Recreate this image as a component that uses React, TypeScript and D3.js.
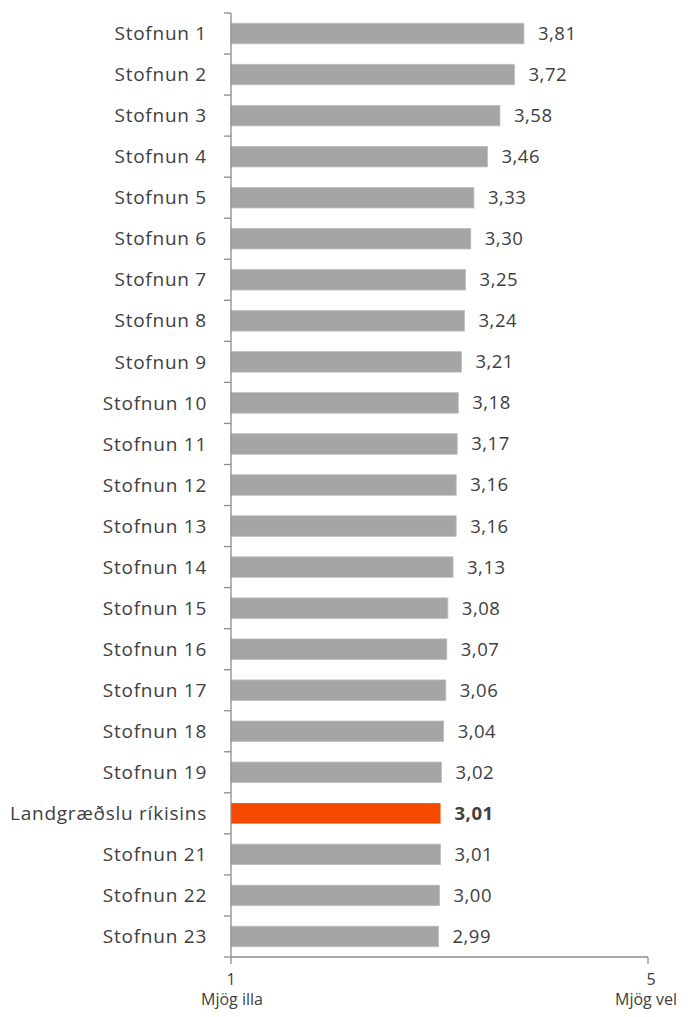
import React from 'react';
import * as d3 from 'd3';

const categories = [
  'Stofnun 1', 'Stofnun 2', 'Stofnun 3', 'Stofnun 4', 'Stofnun 5', 'Stofnun 6',
  'Stofnun 7', 'Stofnun 8', 'Stofnun 9', 'Stofnun 10', 'Stofnun 11', 'Stofnun 12',
  'Stofnun 13', 'Stofnun 14', 'Stofnun 15', 'Stofnun 16', 'Stofnun 17', 'Stofnun 18',
  'Stofnun 19', 'Landgræðslu ríkisins', 'Stofnun 21', 'Stofnun 22', 'Stofnun 23',
];
const values = [
  3.81, 3.72, 3.58, 3.46, 3.33, 3.30, 3.25, 3.24, 3.21, 3.18, 3.17, 3.16,
  3.16, 3.13, 3.08, 3.07, 3.06, 3.04, 3.02, 3.01, 3.01, 3.00, 2.99,
];
const highlight = 'Landgræðslu ríkisins';
const xTicks = [1, 5];
const xTickNames = ['Mjög illa', 'Mjög vel'];

const W = 692;
const H = 1017;
const left = 231;
const right = 648;
const top = 13;
const bottom = 957;
const font = '"Open Sans", sans-serif';
const textColor = '#404040';
const axisColor = '#8c8c8c';

export default function App() {
  const x = d3.scaleLinear().domain([1, 5]).range([left, right]);
  const y = d3.scaleBand<string>().domain(categories).range([top, bottom]).paddingInner(0.5).paddingOuter(0.25);
  const step = y.step();
  const fmt = (v: number) => d3.format('.2f')(v).replace('.', ',');

  return (
    <svg width={W} height={H} style={{ position: 'absolute', left: 0, top: 0 }}>
      {categories.map((c, i) => {
        const v = values[i];
        const hi = c === highlight;
        const cy = y(c)! + y.bandwidth() / 2;
        return (
          <g key={c}>
            <rect x={x(1)} y={y(c)} width={x(v) - x(1)} height={y.bandwidth()}
              fill={hi ? '#f54a00' : '#a5a5a5'} stroke={hi ? 'none' : '#bdbdbd'} strokeWidth={0.8} />
            <text x={207} y={cy} dy="0.35em" textAnchor="end" fontFamily={font} fontSize={19}
              letterSpacing={0.75} fill={textColor}>{c}</text>
            <text x={x(v) + 14} y={cy} dy="0.35em" fontFamily={font} fontSize={18.5} letterSpacing={0.5}
              fontWeight={hi ? 'bold' : 'normal'} fill={textColor}>{fmt(v)}</text>
          </g>
        );
      })}
      {d3.range(categories.length + 1).map(i => (
        <line key={i} x1={left - 7} x2={left} y1={top + i * step} y2={top + i * step} stroke={axisColor} strokeWidth={1.3} />
      ))}
      <line x1={left} x2={left} y1={top} y2={bottom} stroke={axisColor} strokeWidth={1.3} />
      <line x1={left} x2={right} y1={bottom} y2={bottom} stroke={axisColor} strokeWidth={1.3} />
      {xTicks.map((t, i) => (
        <g key={t}>
          <line x1={x(t)} x2={x(t)} y1={bottom} y2={bottom + 7} stroke={axisColor} strokeWidth={1.3} />
          <text x={i === 1 ? x(t) + 3 : x(t)} y={985} textAnchor="middle" fontFamily={font} fontSize={16} fill={textColor}>{t}</text>
          <text x={i === 1 ? x(t) - 2 : x(t) + 1} y={1005} textAnchor="middle" fontFamily={font} fontSize={16} fill={textColor}>{xTickNames[i]}</text>
        </g>
      ))}
    </svg>
  );
}
